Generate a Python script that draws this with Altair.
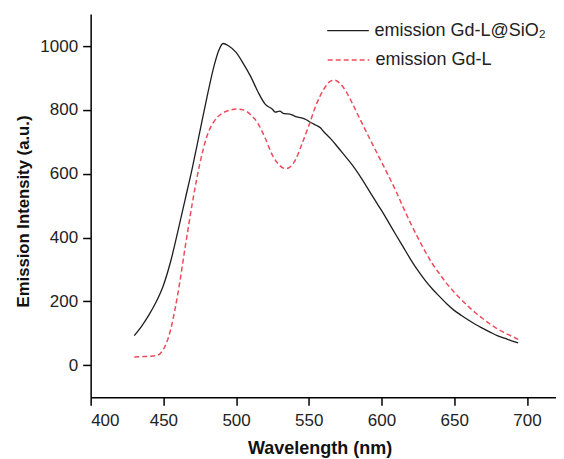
import altair as alt
import pandas as pd

# ---- data ----
wl_a = [430, 435, 440, 445, 450, 455, 460, 465, 470, 475, 480, 485, 488, 491, 495,
        500, 505, 510, 515, 520, 525, 527, 530, 533, 537, 541, 545, 548, 552, 555,
        558, 560, 565, 570, 575, 580, 585, 590, 595, 600, 605, 610, 615, 620, 625,
        630, 635, 640, 645, 650, 655, 660, 665, 670, 675, 680, 685, 690, 694]
int_a = [93, 122, 157, 198, 250, 325, 420, 520, 620, 730, 840, 940, 985, 1008, 1000,
         980, 945, 905, 857, 818, 802, 793, 796, 788, 787, 779, 775, 770, 759, 752,
         744, 733, 710, 683, 655, 627, 594, 558, 521, 485, 447, 408, 370, 332, 297,
         266, 239, 215, 192, 172, 156, 141, 127, 115, 103, 92, 84, 76, 70]

wl_b = [430, 435, 440, 445, 448, 450, 452, 455, 458, 460, 465, 470, 475,
        480, 485, 490, 495, 500, 505, 510, 515, 520, 525, 530, 534, 537, 541, 545,
        550, 555, 560, 565, 568, 572, 576, 580, 585, 590, 595, 600, 605, 610, 615,
        620, 625, 630, 635, 640, 645, 650, 655, 660, 665, 670, 675, 680, 685, 690, 694]
int_b = [26, 27, 28, 30, 38, 50, 68, 112, 175, 225, 370, 510, 630,
         718, 765, 788, 798, 803, 800, 785, 758, 712, 658, 626, 616, 621, 645, 690,
         750, 815, 862, 890, 893, 880, 855, 820, 773, 727, 682, 637, 592, 545, 494,
         445, 400, 357, 318, 286, 255, 229, 205, 183, 163, 145, 128, 113, 101, 90, 81]

name_a = "emission Gd-L@SiO\u2082"
name_b = "emission Gd-L"

x_ticks = [400, 450, 500, 550, 600, 650, 700]
y_ticks = [0, 200, 400, 600, 800, 1000]

df_a = pd.DataFrame({"wl": wl_a, "val": int_a, "s": name_a})
df_b = pd.DataFrame({"wl": wl_b, "val": int_b, "s2": name_b})

FONT = "Liberation Sans"
RED = "#ee4b5c"
BLACK = "#1e1e1e"

x_enc = alt.X("wl:Q",
              scale=alt.Scale(domain=[400, 720], nice=False, zero=False),
              axis=alt.Axis(values=x_ticks, title="Wavelength (nm)", format="d",
                            titleX=229, titleY=56, titleBaseline="alphabetic",
                            titleAlign="center", labelPadding=7, titleFontSize=18))
y_enc = alt.Y("val:Q",
              scale=alt.Scale(domain=[-100, 1100], nice=False, zero=False),
              axis=alt.Axis(values=y_ticks, title="Emission Intensity (a.u.)", format="d",
                            titleAngle=270, titleX=-67, titleY=197,
                            titleAlign="center", titleBaseline="middle",
                            labelPadding=5, titleFontSize=16.7))

line_a = alt.Chart(df_a).mark_line(strokeWidth=1.3, interpolate="monotone").encode(
    x=x_enc, y=y_enc,
    color=alt.Color("s:N", scale=alt.Scale(domain=[name_a], range=[BLACK]),
                    legend=alt.Legend(title=None, orient="none", legendX=236, legendY=-5,
                                      symbolType="stroke", symbolSize=1731,
                                      symbolStrokeWidth=1.3, labelOffset=5, padding=0,
                                      labelLimit=0)),
)

line_b = alt.Chart(df_b).mark_line(strokeWidth=1.5, color=RED, interpolate="monotone").encode(
    x=x_enc, y=y_enc,
    strokeDash=alt.StrokeDash("s2:N", scale=alt.Scale(domain=[name_b], range=[[5, 3]]),
                              legend=alt.Legend(title=None, orient="none", legendX=236, legendY=24,
                                                symbolType="stroke", symbolSize=1731,
                                                symbolStrokeColor=RED, symbolStrokeWidth=1.5,
                                                labelOffset=5, padding=0, labelLimit=0)),
)

chart = alt.layer(line_a, line_b).resolve_legend(color="independent", strokeDash="independent").properties(
    width=465.6, height=383.3,
    autosize=alt.AutoSizeParams(type="none"),
    padding={"left": 82.7, "top": 6, "right": 0, "bottom": 62},
).configure_view(stroke=None).configure_axis(
    grid=False, domainColor="black", domainWidth=1.5, tickColor="black", tickWidth=1.5,
    tickSize=8, labelFont=FONT, labelFontSize=17, labelColor="#222",
    titleFont=FONT, titleFontWeight="bold", titleColor="#111",
).configure_legend(
    labelFont=FONT, labelFontSize=18, labelColor="#222",
)

chart.save("out.html", embed_options={"renderer": "svg", "actions": False})
